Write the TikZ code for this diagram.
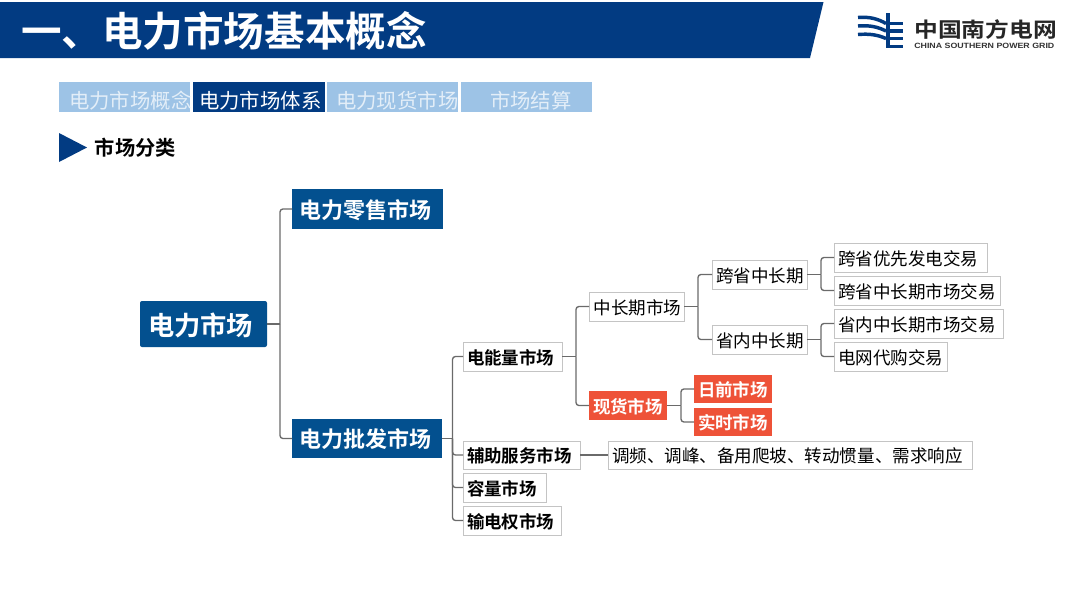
\documentclass[tikz,border=0pt]{standalone}
\usepackage{fontspec}
\setmainfont{Noto Sans CJK SC}[BoldFont=* Bold]
\newfontfamily\latinlogo{Liberation Sans}
\definecolor{headblue}{HTML}{023B82}
\definecolor{tablight}{HTML}{9DC3E6}
\definecolor{tabtext}{HTML}{E3EEF8}
\definecolor{nodeblue}{HTML}{03508F}
\definecolor{spotred}{HTML}{EE5238}
\definecolor{edgegrey}{HTML}{C4C4C4}
\definecolor{linkgrey}{HTML}{6A6A6A}
% name, x1, y1, x2, y2, style, left pad (px), baseline drop below centre (px), text
\newcommand{\putbox}[9]{%
  \pgfmathsetmacro{\boxw}{(#4-#2)*0.75}%
  \pgfmathsetmacro{\boxh}{(#5-#3)*0.75}%
  \pgfmathsetmacro{\boxtw}{\boxw-2*#7*0.75}%
  \pgfmathsetmacro{\boxth}{1+2*#8*0.75}%
  \node[#6,minimum width=\boxw pt,minimum height=\boxh pt,text width=\boxtw pt,align=left,text height=\boxth pt,text depth=1pt,inner sep=0pt,outer sep=0pt] (#1) at ({(#2+#4)/2},{(#3+#5)/2}) {#9};}
\tikzset{
  x=0.75pt,y=-0.75pt,
  tabbox/.style={fill=tablight,text=tabtext,font=\fontsize{15.3pt}{18pt}\selectfont},
  tabcur/.style={tabbox,fill=headblue,text=white},
  bigbox/.style={fill=nodeblue,text=white,font=\fontsize{16.5pt}{20pt}\selectfont\bfseries},
  rootbox/.style={bigbox,rounded corners=1.5pt,font=\fontsize{19.7pt}{24pt}\selectfont\bfseries},
  boldbox/.style={draw=edgegrey,line width=0.75pt,fill=white,font=\fontsize{13.1pt}{16pt}\selectfont\bfseries},
  plainbox/.style={draw=edgegrey,line width=0.75pt,fill=white,font=\fontsize{13.15pt}{16pt}\selectfont},
  redbox/.style={fill=spotred,text=white,font=\fontsize{13.1pt}{16pt}\selectfont\bfseries},
  link/.style={draw=linkgrey,line width=1pt,rounded corners=2.2pt},
  logostripe/.style={draw=headblue,line width=2.6pt},
}
\begin{document}
\begin{tikzpicture}
\useasboundingbox (0,0) rectangle (1080,608);
\fill[white] (0,0) rectangle (1080,608);
% header
\fill[headblue] (0,2) -- (823.5,2) -- (810,58) -- (0,58) -- cycle;
\node[text=white,anchor=west,inner sep=0pt,font=\fontsize{30.4pt}{36pt}\selectfont\bfseries] (title) at (21,31) {一、电力市场基本概念};
% logo
\draw[logostripe] (858,17.5) .. controls (870,16.5) and (878,19) .. (886,23.5);
\draw[logostripe] (858,26) .. controls (870,25) and (878,27) .. (886,31);
\draw[logostripe] (858,34.5) .. controls (870,33.5) and (878,35) .. (886,38.5);
\fill[headblue] (885.5,13) rectangle (890,48);
\draw[logostripe] (890,23.5) -- (903,23.5);
\draw[logostripe] (890,31) -- (903,31);
\draw[logostripe] (890,38.5) -- (903,38.5);
\draw[logostripe] (890,46.5) -- (903,46.5);
\node[anchor=west,inner sep=0pt,text=black!85,font=\fontsize{15.5pt}{18pt}\selectfont\bfseries\addfontfeature{FakeStretch=1.15}] (logocn) at (914,30) {中国南方电网};
\node[anchor=west,inner sep=0pt,text=black!80,font=\latinlogo\fontsize{5.7pt}{7pt}\selectfont\bfseries\addfontfeature{FakeStretch=1.16}] (logoen) at (914,45.5) {CHINA SOUTHERN POWER GRID};
% tabs
\putbox{tabA}{59}{82}{190}{112}{tabbox}{10}{11.3}{电力市场概念}
\putbox{tabB}{193}{82}{324.5}{112}{tabcur}{6}{11.3}{电力市场体系}
\putbox{tabC}{327}{82}{458}{112}{tabbox}{9}{11.3}{电力现货市场}
\putbox{tabD}{461}{82}{592}{112}{tabbox}{29}{11.3}{市场结算}
% section marker
\fill[headblue] (59,133) -- (87,147.5) -- (59,162) -- cycle;
\node[anchor=west,inner sep=0pt,text=black,font=\fontsize{15.2pt}{18pt}\selectfont\bfseries] (sect) at (94.5,147.5) {市场分类};
% tree nodes
\putbox{root}{140}{301}{267}{347}{rootbox}{8}{11}{电力市场}
\putbox{retail}{292}{189}{443}{229}{bigbox}{7.5}{9.4}{电力零售市场}
\putbox{whole}{292}{419}{442}{458}{bigbox}{7.5}{9.4}{电力批发市场}
\putbox{energy}{463}{342}{562}{371}{boldbox}{4}{7.6}{电能量市场}
\putbox{aux}{463}{441}{580}{469}{boldbox}{4}{7.6}{辅助服务市场}
\putbox{cap}{463}{473}{546}{502}{boldbox}{4}{7.6}{容量市场}
\putbox{ftr}{463}{506}{561}{535}{boldbox}{4}{7.6}{输电权市场}
\putbox{mid}{589}{292}{684}{321}{plainbox}{4.5}{7.6}{中长期市场}
\putbox{spot}{589}{391}{667}{420}{redbox}{4}{7.6}{现货市场}
\putbox{dayah}{694}{375}{772}{403}{redbox}{4}{7.6}{日前市场}
\putbox{realt}{694}{408}{772}{436}{redbox}{4}{7.6}{实时市场}
\putbox{inter}{712}{260}{807}{289}{plainbox}{4}{7.6}{跨省中长期}
\putbox{intra}{712}{325}{807}{354}{plainbox}{4}{7.6}{省内中长期}
\putbox{tA}{834}{243}{987}{272}{plainbox}{4}{7.6}{跨省优先发电交易}
\putbox{tB}{834}{276}{1000}{305}{plainbox}{4}{7.6}{跨省中长期市场交易}
\putbox{tC}{834}{309}{1003}{338}{plainbox}{4}{7.6}{省内中长期市场交易}
\putbox{tD}{834}{342}{947}{371}{plainbox}{4}{7.6}{电网代购交易}
\putbox{svc}{608}{441}{972}{469}{plainbox}{4}{7.6}{调频、调峰、备用爬坡、转动惯量、需求响应}
% connector buses
\coordinate (busA) at (280,324);
\coordinate (busB) at (452.5,438.5);
\coordinate (busC) at (576,356.5);
\coordinate (busD) at (698,306.5);
\coordinate (busE) at (821,274.5);
\coordinate (busF) at (821,339.5);
\coordinate (busG) at (681,405.5);
\draw[link] (root.east) -- (busA);
\draw[link] (busA) |- (retail.west);
\draw[link] (busA) |- (whole.west);
\draw[link] (whole.east) -- (busB);
\draw[link] (busB) |- (energy.west);
\draw[link] (busB) |- (aux.west);
\draw[link] (busB) |- (cap.west);
\draw[link] (busB) |- (ftr.west);
\draw[link] (energy.east) -- (busC);
\draw[link] (busC) |- (mid.west);
\draw[link] (busC) |- (spot.west);
\draw[link] (mid.east) -- (busD);
\draw[link] (busD) |- (inter.west);
\draw[link] (busD) |- (intra.west);
\draw[link] (inter.east) -- (busE);
\draw[link] (busE) |- (tA.west);
\draw[link] (busE) |- (tB.west);
\draw[link] (intra.east) -- (busF);
\draw[link] (busF) |- (tC.west);
\draw[link] (busF) |- (tD.west);
\draw[link] (spot.east) -- (busG);
\draw[link] (busG) |- (dayah.west);
\draw[link] (busG) |- (realt.west);
\draw[link] (aux.east) -- (svc.west);
\end{tikzpicture}
\end{document}
